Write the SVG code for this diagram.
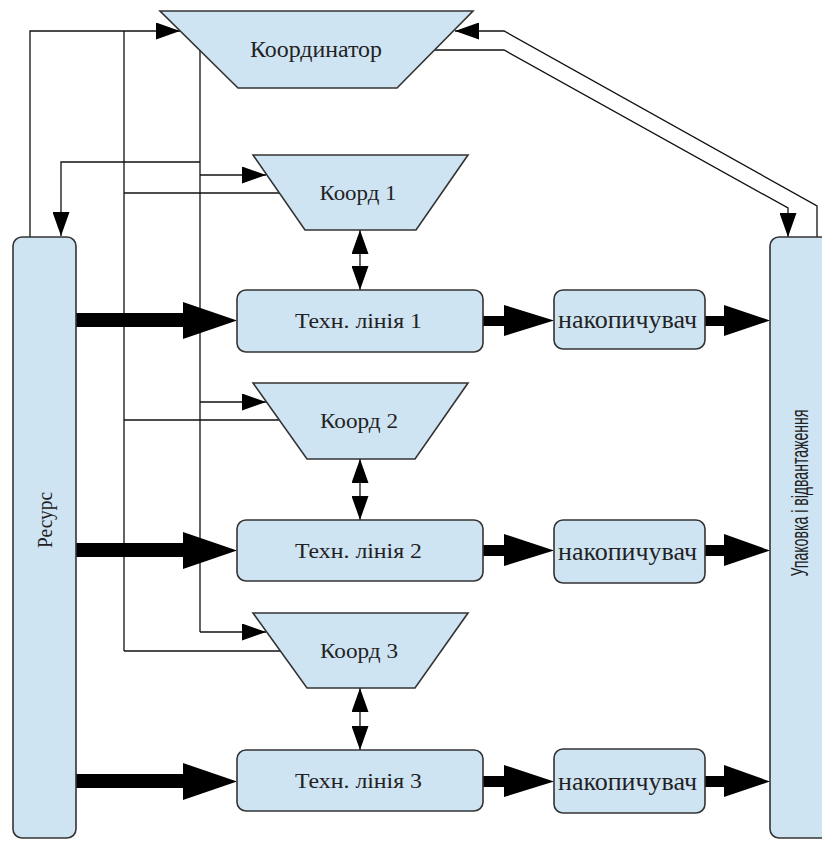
<svg xmlns="http://www.w3.org/2000/svg" width="822" height="841" viewBox="0 0 822 841">
<defs>
<style>
.box{fill:#cfe4f3;stroke:#333;stroke-width:1.6}
.ln{fill:none;stroke:#111;stroke-width:1.3}
.thick{fill:#000;stroke:none}
.t{font-family:"Liberation Serif","Times New Roman",serif;fill:#222;text-anchor:middle}
.s{font-family:"Liberation Sans",Arial,sans-serif;fill:#222;text-anchor:middle}
</style>
<marker id="ah" markerUnits="userSpaceOnUse" markerWidth="25" markerHeight="17" refX="24" refY="8.5" orient="auto-start-reverse">
<path d="M0,0 L24,8.5 L0,17 z" fill="#000"/>
</marker>
</defs>
<rect width="822" height="841" fill="#fff"/>

<g id="connectors">
<!-- thin control lines -->
<path class="ln" d="M30,237 L30,31 L180,31" marker-end="url(#ah)"/>
<path class="ln" d="M124,31 L124,651"/>
<path class="ln" d="M124,193 L279,193"/>
<path class="ln" d="M124,420 L279,420"/>
<path class="ln" d="M124,651 L280,651"/>
<path class="ln" d="M200,50 L200,632"/>
<path class="ln" d="M200,175 L266,175" marker-end="url(#ah)"/>
<path class="ln" d="M200,402 L266,402" marker-end="url(#ah)"/>
<path class="ln" d="M200,632 L266,632" marker-end="url(#ah)"/>
<path class="ln" d="M200,162 L61,162 L61,236" marker-end="url(#ah)"/>
<path class="ln" d="M360,230 L360,290" marker-start="url(#ah)" marker-end="url(#ah)"/>
<path class="ln" d="M360,459 L360,520" marker-start="url(#ah)" marker-end="url(#ah)"/>
<path class="ln" d="M360,688 L360,750" marker-start="url(#ah)" marker-end="url(#ah)"/>
<path class="ln" d="M817,237 L817,206 L504,31 L455,31" marker-end="url(#ah)"/>
<path class="ln" d="M435,50 L504,50 L788,208 L788,237" marker-end="url(#ah)"/>
<!-- thick flow arrows -->
<polygon class="thick" points="76,313 183,313 183,302 237,320.5 183,339 183,327 76,327"/>
<polygon class="thick" points="76,543 183,543 183,532 237,550.5 183,569 183,557 76,557"/>
<polygon class="thick" points="76,774 183,774 183,763 237,781.5 183,800 183,788 76,788"/>
<polygon class="thick" points="483,316 504,316 504,305 554,320.5 504,336 504,326 483,326"/>
<polygon class="thick" points="483,545 504,545 504,534 554,550.5 504,566 504,556 483,556"/>
<polygon class="thick" points="483,776 504,776 504,765 554,781.5 504,797 504,787 483,787"/>
<polygon class="thick" points="705,316 724,316 724,305 770,320.5 724,336 724,326 705,326"/>
<polygon class="thick" points="705,545 724,545 724,534 770,550.5 724,566 724,556 705,556"/>
<polygon class="thick" points="705,776 724,776 724,765 770,781.5 724,797 724,787 705,787"/>
</g>

<g id="coordinator">
<polygon class="box" points="160,11 473,11 397,88 238,88"/>
<text class="t" x="316" y="57" font-size="23" textLength="132" lengthAdjust="spacingAndGlyphs">Координатор</text>
</g>

<g id="koord1">
<polygon class="box" points="253,155 468,155 416,230 305,230"/>
<text class="t" x="358" y="200" font-size="20" textLength="77" lengthAdjust="spacingAndGlyphs">Коорд 1</text>
</g>
<g id="koord2">
<polygon class="box" points="253,383 468,383 415,459 307,459"/>
<text class="t" x="359" y="428" font-size="20" textLength="78" lengthAdjust="spacingAndGlyphs">Коорд 2</text>
</g>
<g id="koord3">
<polygon class="box" points="253,613 468,613 415,688 307,688"/>
<text class="t" x="359" y="658" font-size="20" textLength="78" lengthAdjust="spacingAndGlyphs">Коорд 3</text>
</g>

<g id="resurs">
<rect class="box" x="13" y="237" width="63" height="601" rx="9"/>
<text class="t" transform="translate(52,520) rotate(-90)" font-size="20" textLength="56" lengthAdjust="spacingAndGlyphs">Ресурс</text>
</g>

<g id="upakovka">
<rect class="box" x="770" y="237" width="70" height="601" rx="9"/>
<text class="s" transform="translate(808,493) rotate(-90)" font-size="23" textLength="167" lengthAdjust="spacingAndGlyphs">Упаковка і відвантаження</text>
</g>

<g id="line1">
<rect class="box" x="237" y="290" width="246" height="62" rx="9"/>
<text class="t" x="358.5" y="328" font-size="22" textLength="127" lengthAdjust="spacingAndGlyphs">Техн. лінія 1</text>
</g>
<g id="line2">
<rect class="box" x="237" y="520" width="246" height="61" rx="9"/>
<text class="t" x="358.5" y="558" font-size="22" textLength="127" lengthAdjust="spacingAndGlyphs">Техн. лінія 2</text>
</g>
<g id="line3">
<rect class="box" x="237" y="750" width="246" height="61" rx="9"/>
<text class="t" x="358.5" y="788" font-size="22" textLength="127" lengthAdjust="spacingAndGlyphs">Техн. лінія 3</text>
</g>

<g id="nakop1">
<rect class="box" x="554" y="290" width="151" height="59" rx="9"/>
<text class="t" x="627.5" y="328" font-size="25" textLength="139" lengthAdjust="spacingAndGlyphs">накопичувач</text>
</g>
<g id="nakop2">
<rect class="box" x="554" y="520" width="151" height="63" rx="9"/>
<text class="t" x="627.5" y="560" font-size="25" textLength="139" lengthAdjust="spacingAndGlyphs">накопичувач</text>
</g>
<g id="nakop3">
<rect class="box" x="554" y="749" width="151" height="64" rx="9"/>
<text class="t" x="627.5" y="790" font-size="25" textLength="139" lengthAdjust="spacingAndGlyphs">накопичувач</text>
</g>
</svg>
